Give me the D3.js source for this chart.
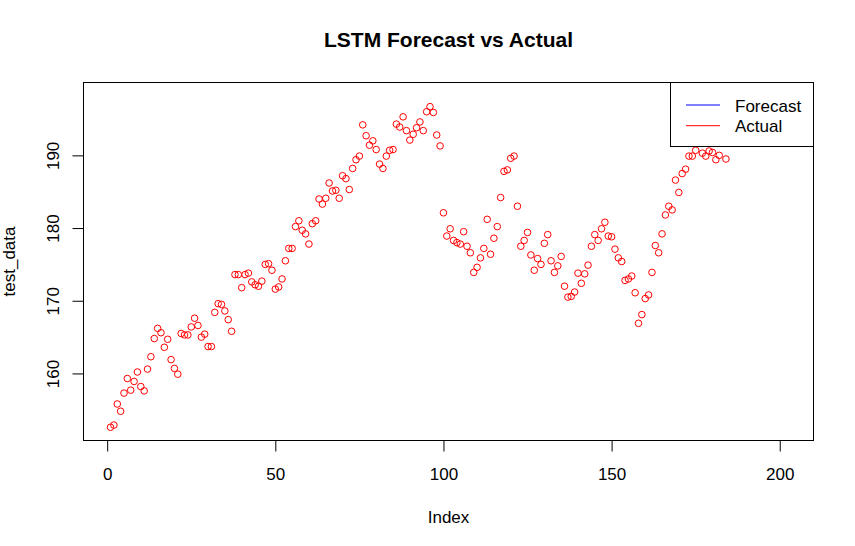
<!DOCTYPE html>
<html>
<head>
<meta charset="utf-8">
<script src="https://cdn.jsdelivr.net/npm/d3@7"></script>
<style>
  html, body { margin: 0; padding: 0; background: #fff; }
  svg { display: block; }
  text { font-family: "Liberation Sans", Arial, sans-serif; fill: #000; }
</style>
</head>
<body>
<svg id="chart" width="855" height="546"></svg>
<script>
// ---- data (index 1..202) ----
const actualValues = [
  152.6, 152.9, 155.8, 154.8, 157.3, 159.3, 157.7, 158.9, 160.2, 158.2,
  157.6, 160.6, 162.3, 164.8, 166.2, 165.6, 163.6, 164.7, 161.9, 160.7,
  159.9, 165.5, 165.3, 165.3, 166.4, 167.6, 166.6, 165.0, 165.4, 163.7,
  163.7, 168.4, 169.6, 169.5, 168.6, 167.4, 165.8, 173.6, 173.6, 171.8,
  173.6, 173.8, 172.6, 172.2, 172.0, 172.7, 175.0, 175.1, 174.2, 171.6,
  171.9, 173.0, 175.5, 177.2, 177.2, 180.2, 181.0, 179.7, 179.2, 177.8,
  180.6, 181.0, 184.0, 183.3, 184.1, 186.2, 185.1, 185.2, 184.1, 187.2,
  186.8, 185.3, 188.2, 189.4, 189.9, 194.2, 192.7, 191.4, 192.0, 190.8,
  188.8, 188.2, 189.9, 190.7, 190.8, 194.3, 193.9, 195.3, 193.4, 192.1,
  192.9, 193.8, 194.6, 193.4, 196.0, 196.7, 195.9, 192.8, 191.3, 182.1,
  178.9, 179.9, 178.3, 178.0, 177.8, 179.5, 177.5, 176.6, 173.9, 174.6,
  175.9, 177.2, 181.2, 176.4, 178.6, 180.2, 184.2, 187.8, 188.0, 189.6,
  189.9, 183.0, 177.5, 178.3, 179.4, 176.3, 174.2, 175.8, 175.0, 177.9,
  179.1, 175.5, 173.9, 174.8, 176.1, 172.0, 170.5, 170.6, 171.2, 173.8,
  172.4, 173.7, 174.9, 177.5, 179.1, 178.3, 179.9, 180.8, 178.9, 178.8,
  177.1, 175.9, 175.4, 172.8, 173.0, 173.4, 171.1, 166.9, 168.1, 170.3,
  170.8, 173.9, 177.6, 176.6, 179.2, 181.8, 183.0, 182.5, 186.6, 184.9,
  187.5, 188.1, 189.9, 189.9, 190.7, 192.3, 190.3, 189.9, 190.6, 190.4,
  189.4, 190.0, 192.0, 189.5, 192.5, 193.1, 192.8, 193.6, 194.2, 193.9,
  194.8, 195.5, 195.1, 196.0, 196.6, 196.2, 197.1, 197.6, 198.2, 197.5,
  196.9, 197.4
];
const xTicks = [0, 50, 100, 150, 200];
const yTicks = [160, 170, 180, 190];
const legendLabels = ["Forecast", "Actual"];
const legendColors = ["#0000FF", "#FF0000"];
const titleText = "LSTM Forecast vs Actual";
const xLabel = "Index";
const yLabel = "test_data";

// ---- layout ----
const plot = { left: 83.5, right: 813.5, top: 82.5, bottom: 440.5 };
const svg = d3.select("#chart");

const n = actualValues.length;
const data = actualValues.map((v, i) => ({ i: i + 1, v }));

// R-style 4% axis extension
const xMin = 1, xMax = n;
const xPad = 0.04 * (xMax - xMin);
const yMin = d3.min(actualValues), yMax = d3.max(actualValues);
const yPad = 0.04 * (yMax - yMin);

const x = d3.scaleLinear().domain([xMin - xPad, xMax + xPad]).range([plot.left, plot.right]);
const y = d3.scaleLinear().domain([yMin - yPad, yMax + yPad]).range([plot.bottom, plot.top]);

// points
svg.append("g").selectAll("circle").data(data).join("circle")
  .attr("cx", d => x(d.i))
  .attr("cy", d => y(d.v))
  .attr("r", 3.3)
  .attr("fill", "none")
  .attr("stroke", "#FF0000")
  .attr("stroke-width", 1);

// axes
const tickLen = 11;
const xAxis = d3.axisBottom(x).tickValues(xTicks).tickSize(tickLen).tickPadding(16).tickFormat(d3.format("d"));
const gx = svg.append("g").attr("transform", `translate(0,${plot.bottom})`).call(xAxis);
gx.select(".domain").remove();
gx.selectAll(".tick line").attr("stroke", "#000");
gx.selectAll(".tick text").attr("font-size", 17).attr("dy", null).attr("y", 39.5)
  .style("font-family", '"Liberation Sans", Arial, sans-serif');

const yAxis = d3.axisLeft(y).tickValues(yTicks).tickSize(tickLen).tickFormat(d3.format("d"));
const gy = svg.append("g").attr("transform", `translate(${plot.left},0)`).call(yAxis);
gy.select(".domain").remove();
gy.selectAll(".tick line").attr("stroke", "#000");
gy.selectAll(".tick text")
  .attr("font-size", 17)
  .attr("x", null).attr("dy", null)
  .attr("text-anchor", "middle")
  .attr("transform", "translate(-25,0) rotate(-90)")
  .style("font-family", '"Liberation Sans", Arial, sans-serif');

// frame
svg.append("rect")
  .attr("x", plot.left).attr("y", plot.top)
  .attr("width", plot.right - plot.left).attr("height", plot.bottom - plot.top)
  .attr("fill", "none").attr("stroke", "#000").attr("stroke-width", 1);

// title & labels
svg.append("text").attr("x", (plot.left + plot.right) / 2).attr("y", 47.3)
  .attr("text-anchor", "middle").attr("font-size", 21).attr("font-weight", "bold")
  .text(titleText);
svg.append("text").attr("x", (plot.left + plot.right) / 2).attr("y", 522.7)
  .attr("text-anchor", "middle").attr("font-size", 17).text(xLabel);
svg.append("text")
  .attr("transform", `translate(14.5,${(plot.top + plot.bottom) / 2}) rotate(-90)`)
  .attr("text-anchor", "middle").attr("font-size", 17).text(yLabel);

// legend
const lg = svg.append("g");
lg.append("rect").attr("x", 670.5).attr("y", plot.top)
  .attr("width", plot.right - 670.5).attr("height", 146.5 - plot.top)
  .attr("fill", "#fff").attr("stroke", "#000").attr("stroke-width", 1);
const legendY = [105, 125.7];
legendLabels.forEach((lab, k) => {
  lg.append("line").attr("x1", 686).attr("x2", 720)
    .attr("y1", legendY[k]).attr("y2", legendY[k])
    .attr("stroke", legendColors[k]).attr("stroke-width", 1);
  lg.append("text").attr("x", 735).attr("y", legendY[k] + 6.5)
    .attr("font-size", 17).text(lab);
});
</script>
</body>
</html>
